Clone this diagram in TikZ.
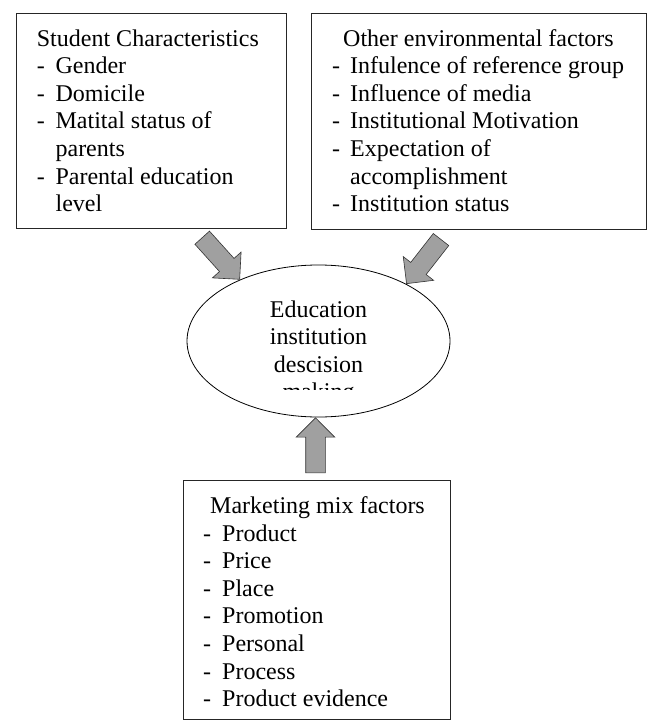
\documentclass[tikz,border=0pt]{standalone}
\usepackage{fontspec}
\setmainfont{Liberation Serif}
\usetikzlibrary{shapes.geometric,shapes.arrows}
\definecolor{arrgray}{RGB}{160,160,160}
\newcommand{\dsh}[1]{\makebox[#1][l]{-}}
\newcommand{\ind}[1]{\hspace*{#1}}
\begin{document}
\begin{tikzpicture}[x=1pt,y=-1pt,
  box/.style={draw=black!85, line width=0.9pt, anchor=north west, inner sep=0pt},
  txt/.style={anchor=base west, inner sep=0pt, font=\fontsize{24}{27.6}\selectfont},
  blockarrow/.style={single arrow, draw=black!80, line width=0.6pt, fill=arrgray,
    minimum height=56pt, inner xsep=0pt, inner ysep=9.5pt,
    single arrow head extend=9.5pt, anchor=tip}]
\useasboundingbox (0,0) rectangle (648,720);
% boxes
\node[box, minimum width=270pt, minimum height=215pt] (b1) at (16,13) {};
\node[box, minimum width=335pt, minimum height=216pt] (b2) at (311,13) {};
\node[box, minimum width=267pt, minimum height=239pt] (b3) at (183,480) {};
% box 1 text
\node[txt] (t1) at (36.7,46) {Student Characteristics};
\node[txt] (l1) at (36.7,73.6) {\begin{tabular}[t]{@{}l@{}}
\dsh{18.7pt}Gender\\
\dsh{18.7pt}Domicile\\
\dsh{18.7pt}Matital status of\\
\ind{18.7pt}parents\\
\dsh{18.7pt}Parental education\\
\ind{18.7pt}level
\end{tabular}};
% box 2 text
\node[txt] (t2) at (343,46) {Other environmental factors};
\node[txt] (l2) at (332,73.6) {\begin{tabular}[t]{@{}l@{}}
\dsh{18pt}Infulence of reference group\\
\dsh{18pt}Influence of media\\
\dsh{18pt}Institutional Motivation\\
\dsh{18pt}Expectation of\\
\ind{18pt}accomplishment\\
\dsh{18pt}Institution status
\end{tabular}};
% box 3 text
\node[txt] (t3) at (210,513) {Marketing mix factors};
\node[txt] (l3) at (203,541) {\begin{tabular}[t]{@{}l@{}}
\dsh{19pt}Product\\
\dsh{19pt}Price\\
\dsh{19pt}Place\\
\dsh{19pt}Promotion\\
\dsh{19pt}Personal\\
\dsh{19pt}Process\\
\dsh{19pt}Product evidence
\end{tabular}};
% ellipse
\node[ellipse, draw=black, line width=0.8pt, minimum width=263pt, minimum height=152pt, inner sep=0pt] (ell) at (318.5,341) {};
\begin{scope}
\clip (187,266) rectangle (450,389);
\node[txt, anchor=base] (et) at (318.5,317) {\begin{tabular}[t]{@{}c@{}}
Education\\institution\\descision\\making
\end{tabular}};
\end{scope}
% block arrows
\node[blockarrow, rotate=-48] (aL) at (ell.142.5) {};
\node[blockarrow, rotate=-128] (aR) at (ell.33.5) {};
\coordinate (upTip) at ([xshift=-3pt]ell.south);
\node[blockarrow, rotate=90, minimum height=55pt] (aU) at (upTip) {};
\end{tikzpicture}
\end{document}
